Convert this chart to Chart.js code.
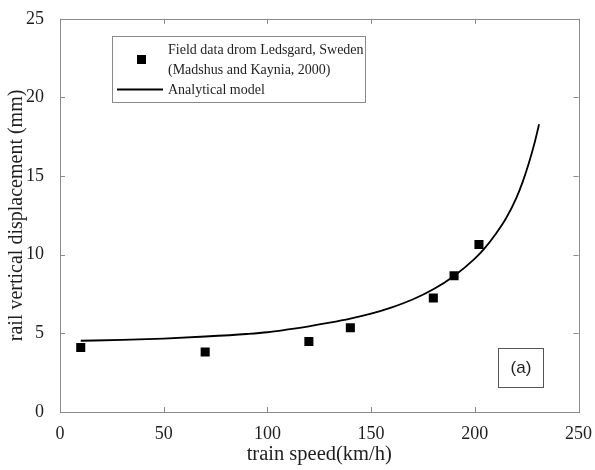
<!DOCTYPE html>
<html><head><meta charset="utf-8">
<script src="https://cdn.jsdelivr.net/npm/chart.js@4.4.1/dist/chart.umd.min.js"></script>
<style>html,body{margin:0;padding:0;background:#fff}#wrap{width:595px;height:470px}</style>
</head><body><div id="wrap"><canvas id="c" width="595" height="470"></canvas></div>
<script>
// ---- data ----
const fieldSpeed = [10, 70, 120, 140, 180, 190, 202];
const fieldDisp  = [4.10, 3.82, 4.48, 5.36, 7.25, 8.66, 10.65];
const modelSpeed = [10, 30, 50, 70, 90, 100, 110, 120, 130, 140, 150, 160, 170, 180, 190, 200, 205, 210, 215, 220, 223, 226, 229, 231];
const modelDisp  = [4.53, 4.58, 4.67, 4.80, 4.96, 5.07, 5.25, 5.45, 5.68, 5.94, 6.25, 6.65, 7.15, 7.80, 8.65, 9.75, 10.45, 11.30, 12.30, 13.60, 14.60, 15.80, 17.20, 18.30];
const xTicks = [0, 50, 100, 150, 200, 250];
const yTicks = [0, 5, 10, 15, 20, 25];
const fieldLabel = ['Field data drom Ledsgard, Sweden', '(Madshus and Kaynia, 2000)'];
const modelLabel = ['Analytical model'];
const xTitle = 'train speed(km/h)';
const yTitle = 'rail vertical displacement (mm)';
const panelLabel = '(a)';

const SERIF = '"Liberation Serif", "Times New Roman", serif';
const AXIS_COLOR = '#8a8a8a';
const TEXT_COLOR = '#1e1e1e';

const framePlugin = {
  id: 'frame',
  beforeDatasetsDraw(chart) {
    const {ctx, chartArea: a, scales: {x, y}} = chart;
    ctx.save();
    ctx.strokeStyle = AXIS_COLOR;
    ctx.lineWidth = 1;
    ctx.strokeRect(Math.round(a.left) + 0.5, Math.round(a.top) + 0.5, Math.round(a.right - a.left), Math.round(a.bottom - a.top));
    const L = 5;
    ctx.beginPath();
    xTicks.forEach(v => {
      const px = Math.round(x.getPixelForValue(v)) + 0.5;
      ctx.moveTo(px, a.bottom); ctx.lineTo(px, a.bottom - L);
      ctx.moveTo(px, a.top); ctx.lineTo(px, a.top + L);
    });
    yTicks.forEach(v => {
      const py = Math.round(y.getPixelForValue(v)) + 0.5;
      ctx.moveTo(a.left, py); ctx.lineTo(a.left + L, py);
      ctx.moveTo(a.right, py); ctx.lineTo(a.right - L, py);
    });
    ctx.stroke();
    ctx.restore();
  },
  afterDraw(chart) {
    const {ctx} = chart;
    ctx.save();
    // legend box
    const lx = 112, ly = 36, lw = 253, lh = 66;
    ctx.fillStyle = '#fff';
    ctx.fillRect(lx, ly, lw, lh);
    ctx.strokeStyle = AXIS_COLOR;
    ctx.lineWidth = 1;
    ctx.strokeRect(lx + 0.5, ly + 0.5, lw, lh);
    const ds0 = chart.data.datasets[0], ds1 = chart.data.datasets[1];
    // marker
    ctx.fillStyle = ds0.backgroundColor;
    ctx.fillRect(137, 55, 9, 9);
    // line
    ctx.strokeStyle = ds1.borderColor;
    ctx.lineWidth = ds1.borderWidth;
    ctx.beginPath(); ctx.moveTo(117, 89.5); ctx.lineTo(163, 89.5); ctx.stroke();
    ctx.fillStyle = TEXT_COLOR;
    ctx.font = '14px ' + SERIF;
    ctx.textBaseline = 'middle';
    ctx.textAlign = 'left';
    const lines = [].concat(ds0.label, ds1.label);
    lines.forEach((t, i) => ctx.fillText(t, 168, 50 + i * 20));
    // panel label
    ctx.strokeStyle = '#555';
    ctx.lineWidth = 1;
    ctx.strokeRect(498.5, 348.5, 45, 39);
    ctx.fillStyle = TEXT_COLOR;
    ctx.font = '17px "Liberation Sans", Arial, sans-serif';
    ctx.textAlign = 'center';
    ctx.fillText(panelLabel, 521, 368);
    ctx.restore();
  }
};

new Chart(document.getElementById('c'), {
  type: 'scatter',
  data: {
    datasets: [
      {
        label: fieldLabel,
        data: fieldSpeed.map((s, i) => ({x: s, y: fieldDisp[i]})),
        pointStyle: 'rect',
        pointRadius: 6.4,
        backgroundColor: '#000',
        borderColor: '#000',
        borderWidth: 0,
        showLine: false,
        order: 0
      },
      {
        label: modelLabel,
        data: modelSpeed.map((s, i) => ({x: s, y: modelDisp[i]})),
        showLine: true,
        pointRadius: 0,
        borderColor: '#000',
        backgroundColor: '#000',
        borderWidth: 1.8,
        cubicInterpolationMode: 'monotone',
        fill: false,
        order: 1
      }
    ]
  },
  options: {
    responsive: false,
    animation: false,
    devicePixelRatio: 1,
    layout: {padding: {left: 0, top: 14, right: 15, bottom: 0}},
    plugins: {legend: {display: false}, tooltip: {enabled: false}},
    scales: {
      x: {
        type: 'linear', min: 0, max: 250,
        afterBuildTicks: s => { s.ticks = xTicks.map(v => ({value: v})); },
        afterFit: s => { s.height = 58; },
        grid: {display: false}, border: {display: false},
        ticks: {color: TEXT_COLOR, font: {family: SERIF, size: 18}, padding: 3, maxRotation: 0},
        title: {display: true, text: xTitle, color: TEXT_COLOR, font: {family: SERIF, size: 20.5}, padding: {top: 0, bottom: 3}}
      },
      y: {
        type: 'linear', min: 0, max: 25,
        afterBuildTicks: s => { s.ticks = yTicks.map(v => ({value: v})); },
        afterFit: s => { s.width = 60; },
        grid: {display: false}, border: {display: false},
        ticks: {color: TEXT_COLOR, font: {family: SERIF, size: 18}, padding: 8},
        title: {display: true, text: yTitle, color: TEXT_COLOR, font: {family: SERIF, size: 20}, padding: {top: 5, bottom: 0}}
      }
    }
  },
  plugins: [framePlugin]
});
</script>
</body></html>
